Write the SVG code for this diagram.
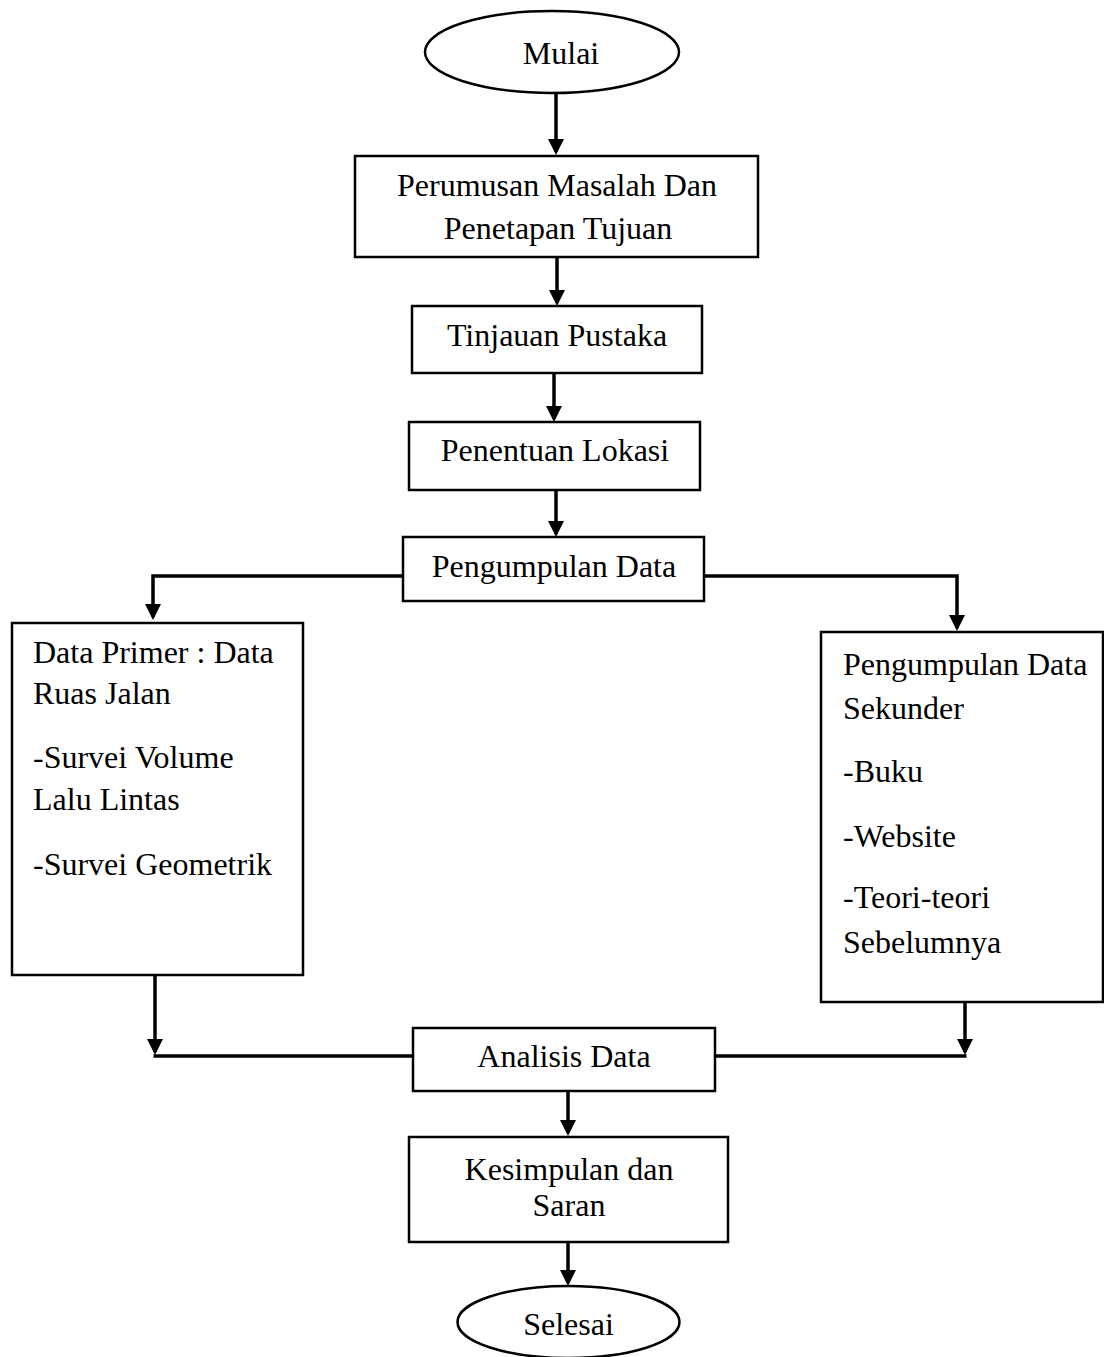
<svg xmlns="http://www.w3.org/2000/svg" width="1104" height="1357" viewBox="0 0 1104 1357">
<style>
.box{fill:#fff;stroke:#000;stroke-width:2.5}
.t{font-family:"Liberation Serif","Times New Roman",serif;font-size:32px;fill:#000}
.c{text-anchor:middle}
.ln{fill:none;stroke:#000;stroke-width:3.5}
</style>
<defs>
<marker id="ah" markerUnits="userSpaceOnUse" markerWidth="17" markerHeight="17" refX="13" refY="8" orient="auto">
<path d="M0,0 L16,8 L0,16 z" fill="#000"/>
</marker>
</defs>
<rect width="1104" height="1357" fill="#fff"/>
<g id="connectors">
<line class="ln" x1="556" y1="93" x2="556" y2="152" marker-end="url(#ah)"/>
<line class="ln" x1="557" y1="257" x2="557" y2="303" marker-end="url(#ah)"/>
<line class="ln" x1="554" y1="373" x2="554" y2="419" marker-end="url(#ah)"/>
<line class="ln" x1="556" y1="490" x2="556" y2="534" marker-end="url(#ah)"/>
<polyline class="ln" points="403,576 153,576 153,617" marker-end="url(#ah)"/>
<polyline class="ln" points="704,576 957,576 957,628" marker-end="url(#ah)"/>
<line class="ln" x1="155" y1="975" x2="155" y2="1052" marker-end="url(#ah)"/>
<line class="ln" x1="153.5" y1="1056" x2="413" y2="1056"/>
<line class="ln" x1="965" y1="1002" x2="965" y2="1052" marker-end="url(#ah)"/>
<line class="ln" x1="715" y1="1056" x2="966.5" y2="1056"/>
<line class="ln" x1="568" y1="1091" x2="568" y2="1133" marker-end="url(#ah)"/>
<line class="ln" x1="568" y1="1242" x2="568" y2="1283" marker-end="url(#ah)"/>
</g>
<g id="mulai">
<ellipse class="box" cx="552" cy="52" rx="127" ry="41"/>
<text class="t c" x="561" y="64">Mulai</text>
</g>
<g id="perumusan">
<rect class="box" x="355" y="156" width="403" height="101"/>
<text class="t c" x="557" y="196">Perumusan Masalah Dan</text>
<text class="t c" x="558" y="239">Penetapan Tujuan</text>
</g>
<g id="tinjauan">
<rect class="box" x="412" y="306" width="290" height="67"/>
<text class="t c" x="557" y="346">Tinjauan Pustaka</text>
</g>
<g id="penentuan">
<rect class="box" x="409" y="422" width="291" height="68"/>
<text class="t c" x="555" y="461">Penentuan Lokasi</text>
</g>
<g id="pengumpulan">
<rect class="box" x="403" y="537" width="301" height="64"/>
<text class="t c" x="554" y="577">Pengumpulan Data</text>
</g>
<g id="primer">
<rect class="box" x="12" y="623" width="291" height="352"/>
<text class="t" x="33" y="663">Data Primer : Data</text>
<text class="t" x="33" y="704">Ruas Jalan</text>
<text class="t" x="33" y="768">-Survei Volume</text>
<text class="t" x="33" y="810">Lalu Lintas</text>
<text class="t" x="33" y="875">-Survei Geometrik</text>
</g>
<g id="sekunder">
<rect class="box" x="821" y="632" width="282" height="370"/>
<text class="t" x="843" y="675">Pengumpulan Data</text>
<text class="t" x="843" y="719">Sekunder</text>
<text class="t" x="843" y="782">-Buku</text>
<text class="t" x="843" y="847">-Website</text>
<text class="t" x="843" y="908">-Teori-teori</text>
<text class="t" x="843" y="953">Sebelumnya</text>
</g>
<g id="analisis">
<rect class="box" x="413" y="1028" width="302" height="63"/>
<text class="t c" x="564" y="1067">Analisis Data</text>
</g>
<g id="kesimpulan">
<rect class="box" x="409" y="1137" width="319" height="105"/>
<text class="t c" x="569" y="1180">Kesimpulan dan</text>
<text class="t c" x="569" y="1216">Saran</text>
</g>
<g id="selesai">
<ellipse class="box" cx="568.5" cy="1322" rx="111" ry="36"/>
<text class="t c" x="568.5" y="1335">Selesai</text>
</g>
</svg>
